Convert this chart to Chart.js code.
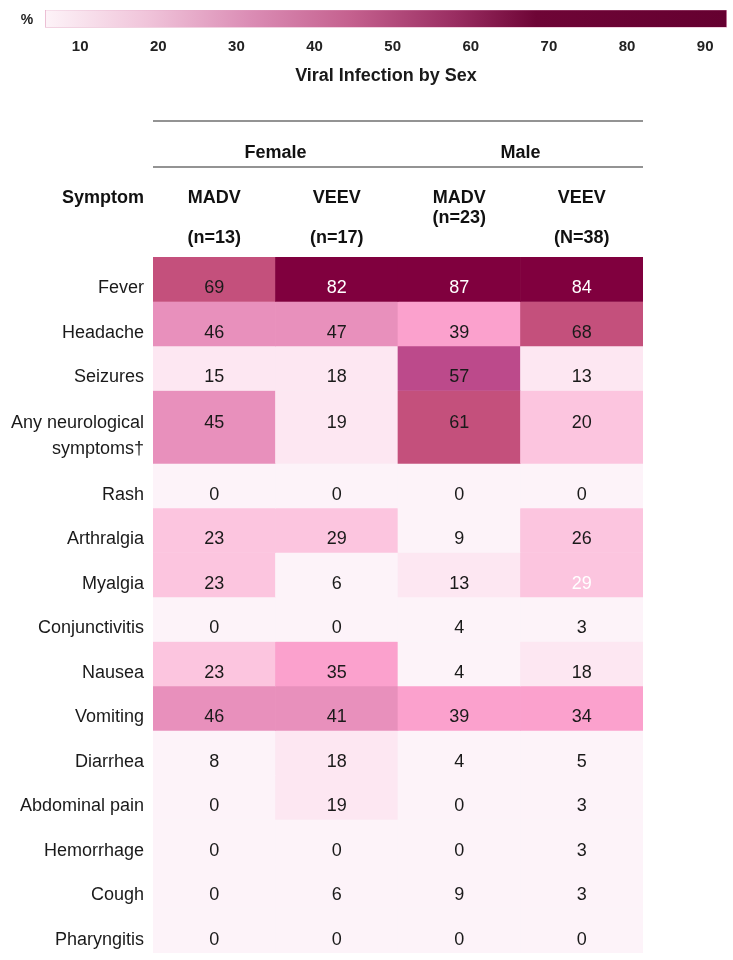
<!DOCTYPE html>
<html>
<head>
<meta charset="utf-8">
<script src="https://cdn.jsdelivr.net/npm/chart.js@4.4.1/dist/chart.umd.min.js"></script>
<style>
  body { margin: 0; background: #fff; }
  canvas { display: block; }
</style>
</head>
<body>
<canvas id="ScaleBar" width="733" height="95"></canvas>
<canvas id="SymptomTable" width="733" height="865"></canvas>
<script>
const sans = "'Liberation Sans', Arial, sans-serif";

// data
const scaleTicks = [10, 20, 30, 40, 50, 60, 70, 80, 90];
const scaleRange = [5.5, 92.8];
const columns = [["MADV", "", "(n=13)"], ["VEEV", "", "(n=17)"], ["MADV", "(n=23)", ""], ["VEEV", "", "(N=38)"]];
const sexes = ["Female", "Male"];
const symptoms = ["Fever", "Headache", "Seizures", ["Any neurological", "symptoms\u2020"], "Rash", "Arthralgia",
  "Myalgia", "Conjunctivitis", "Nausea", "Vomiting", "Diarrhea", "Abdominal pain", "Hemorrhage", "Cough", "Pharyngitis"];
const femaleMadv = [69, 46, 15, 45, 0, 23, 23, 0, 23, 46, 8, 0, 0, 0, 0];
const femaleVeev = [82, 47, 18, 19, 0, 29, 6, 0, 35, 41, 18, 19, 0, 6, 0];
const maleMadv   = [87, 39, 57, 61, 0, 9, 13, 4, 4, 39, 4, 0, 0, 9, 0];
const maleVeev   = [84, 68, 13, 20, 0, 26, 29, 3, 18, 34, 5, 3, 3, 3, 0];

// cell shading as in the figure (not strictly by value)
const C0 = "#fdf3f9", C1 = "#fde7f2", C2 = "#fcc5df", C3 = "#fba1cd", C4 = "#e890bc",
      C5 = "#c4507c", C6 = "#bc4a8b", C7 = "#80003e";
const cellColors = [
  [C5, C7, C7, C7], [C4, C4, C3, C5], [C1, C1, C6, C1], [C4, C1, C5, C2], [C0, C0, C0, C0],
  [C2, C2, C0, C2], [C2, C0, C1, C2], [C0, C0, C0, C0], [C2, C3, C0, C1], [C4, C4, C3, C3],
  [C0, C1, C0, C0], [C0, C1, C0, C0], [C0, C0, C0, C0], [C0, C0, C0, C0], [C0, C0, C0, C0]
];
const whiteText = ["0,1", "0,2", "0,3", "6,3"];

// row heights (neurological row is taller)
const rowHeights = symptoms.map(s => Array.isArray(s) ? 1.64 : 1);
const rowTops = [];
rowHeights.reduce((acc, h) => { rowTops.push(acc); return acc + h; }, 0);
const totalRows = rowHeights.reduce((a, b) => a + b, 0);
const series = [femaleMadv, femaleVeev, maleMadv, maleVeev];

// ---- colour scale bar ----
const percentLabel = {
  id: "percentLabel",
  afterDraw(chart) {
    const ctx = chart.ctx, a = chart.chartArea;
    ctx.save();
    ctx.font = "bold 14px " + sans;
    ctx.fillStyle = "#222";
    ctx.textAlign = "center";
    ctx.textBaseline = "middle";
    ctx.fillText("%", 27, (a.top + a.bottom) / 2 + 1);
    ctx.restore();
  }
};

new Chart(document.getElementById("ScaleBar"), {
  type: "bar",
  data: {
    labels: ["%"],
    datasets: [{
      data: [scaleRange],
      backgroundColor: (c) => {
        const a = c.chart.chartArea;
        if (!a) return "#c05080";
        const g = c.chart.ctx.createLinearGradient(a.left, 0, a.right, 0);
        g.addColorStop(0, "#fdf3f8");
        g.addColorStop(0.15, "#f0c4da");
        g.addColorStop(0.3, "#db8db5");
        g.addColorStop(0.45, "#c4608e");
        g.addColorStop(0.6, "#9a2e62");
        g.addColorStop(0.72, "#6e0536");
        g.addColorStop(1, "#650030");
        return g;
      },
      borderColor: "#e3a6c4",
      borderWidth: 1,
      borderSkipped: false,
      barThickness: 18
    }]
  },
  options: {
    indexAxis: "y",
    responsive: false,
    animation: false,
    layout: { padding: { top: 10, left: 45, right: 6, bottom: 8 } },
    plugins: {
      legend: { display: false },
      tooltip: { enabled: false },
      title: {
        display: true,
        position: "bottom",
        text: "Viral Infection by Sex",
        color: "#1a1a1a",
        padding: 0,
        font: { family: sans, size: 18, weight: "bold" }
      }
    },
    scales: {
      y: { display: false },
      x: {
        min: scaleRange[0],
        max: scaleRange[1],
        grid: { display: false, drawTicks: false },
        border: { display: false },
        afterBuildTicks: (s) => { s.ticks = scaleTicks.map(v => ({ value: v })); },
        afterFit: (s) => { s.height = 38; },
        ticks: {
          padding: 10,
          color: "#222",
          font: { family: sans, size: 15, weight: "bold" }
        }
      }
    }
  },
  plugins: [percentLabel]
});

// ---- symptom table ----
const tableHeader = {
  id: "tableHeader",
  afterDraw(chart) {
    const ctx = chart.ctx, a = chart.chartArea, x = chart.scales.x;
    ctx.save();
    ctx.strokeStyle = "#6f6f6f";
    ctx.lineWidth = 1.5;
    [26, 72].forEach(y => {
      ctx.beginPath();
      ctx.moveTo(a.left, y);
      ctx.lineTo(a.right, y);
      ctx.stroke();
    });
    ctx.fillStyle = "#111";
    ctx.font = "bold 18px " + sans;
    ctx.textAlign = "center";
    ctx.textBaseline = "middle";
    sexes.forEach((s, i) => {
      const cx = (x.getPixelForValue(i * 2) + x.getPixelForValue(i * 2 + 1)) / 2;
      ctx.fillText(s, cx, 58);
    });
    ctx.textAlign = "right";
    ctx.fillText("Symptom", a.left - 9, 103);
    ctx.restore();
  }
};

const cellValues = {
  id: "cellValues",
  afterDatasetsDraw(chart) {
    const ctx = chart.ctx;
    ctx.save();
    ctx.font = "18px " + sans;
    ctx.textAlign = "center";
    ctx.textBaseline = "middle";
    chart.data.datasets.forEach((ds, r) => {
      const lines = Array.isArray(symptoms[r]) ? symptoms[r].length : 1;
      chart.getDatasetMeta(r).data.forEach((bar, c) => {
        const mid = (bar.y + bar.base) / 2 + 9 - (lines - 1) * 13;
        ctx.fillStyle = whiteText.includes(r + "," + c) ? "#fff" : "#1a1a1a";
        ctx.fillText(String(series[c][r]), bar.x, mid);
      });
    });
    ctx.restore();
  }
};

new Chart(document.getElementById("SymptomTable"), {
  type: "bar",
  data: {
    labels: columns,
    datasets: symptoms.map((s, r) => ({
      label: Array.isArray(s) ? s.join(" ") : s,
      data: columns.map(() => [rowTops[r], rowTops[r] + rowHeights[r]]),
      backgroundColor: cellColors[r],
      borderWidth: 0,
      grouped: false,
      categoryPercentage: 1,
      barPercentage: 1
    }))
  },
  options: {
    responsive: false,
    animation: false,
    layout: { padding: { left: 0, right: 90, top: 0, bottom: 7 } },
    plugins: {
      legend: { display: false },
      tooltip: { enabled: false }
    },
    scales: {
      x: {
        position: "top",
        grid: { display: false, drawTicks: false },
        border: { display: false },
        afterFit: (s) => { s.height = 162; },
        ticks: {
          padding: 9,
          color: "#111",
          maxRotation: 0,
          autoSkip: false,
          font: { family: sans, size: 18, weight: "bold", lineHeight: 1.11 }
        }
      },
      y: {
        min: 0,
        max: totalRows,
        reverse: true,
        grid: { display: false, drawTicks: false },
        border: { display: false },
        afterFit: (s) => { s.width = 153; s.paddingTop = 0; s.paddingBottom = 0; },
        afterBuildTicks: (s) => {
          s.ticks = rowTops.map((t, i) => ({ value: t + rowHeights[i] / 2 }));
        },
        ticks: {
          padding: 9,
          labelOffset: 9,
          autoSkip: false,
          color: "#1a1a1a",
          font: { family: sans, size: 18, lineHeight: 1.44 },
          callback: (v, i) => symptoms[i]
        }
      }
    }
  },
  plugins: [tableHeader, cellValues]
});
</script>
</body>
</html>
